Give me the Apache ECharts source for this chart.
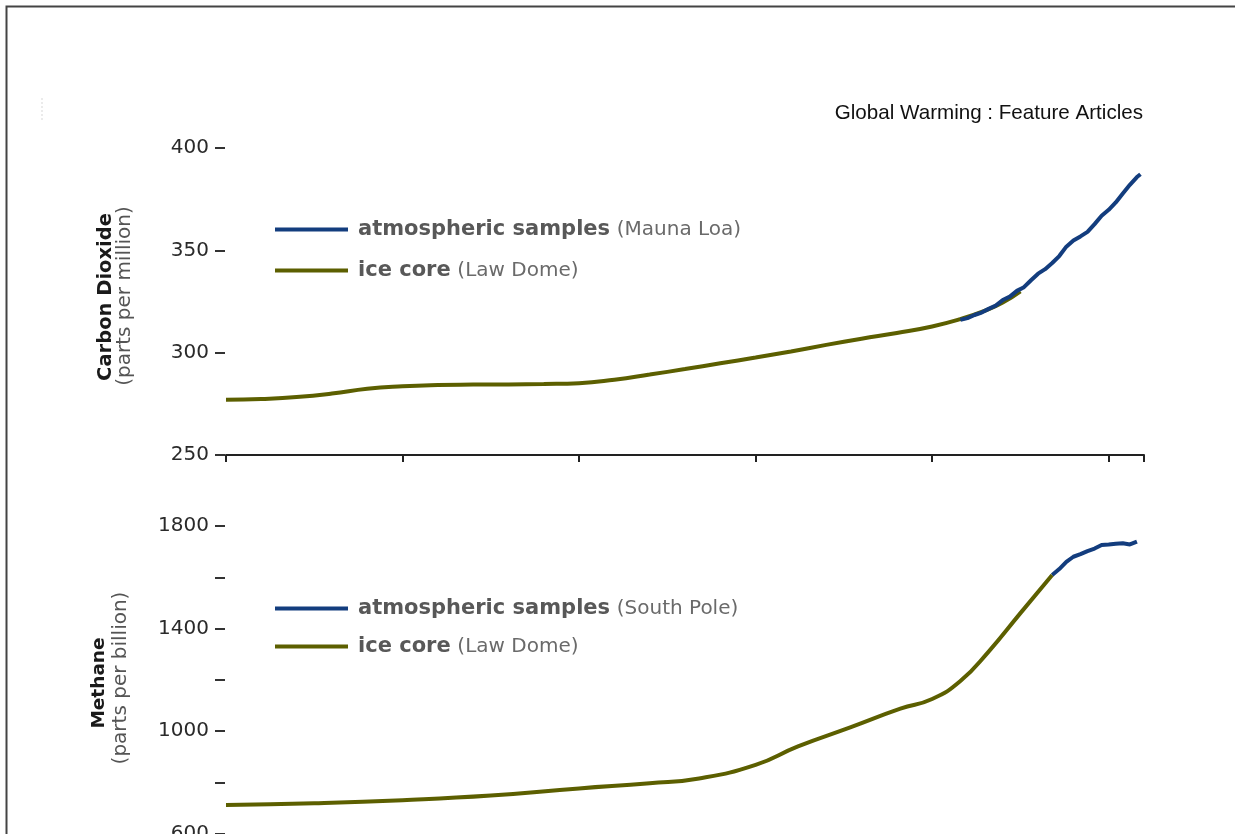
<!DOCTYPE html>
<html>
<head>
<meta charset="utf-8">
<script src="https://cdn.jsdelivr.net/npm/echarts@6/dist/echarts.min.js"></script>
<style>
html,body{margin:0;padding:0;background:#fff;overflow:hidden;}
#chart{width:1235px;height:834px;}
</style>
</head>
<body>
<div id="chart"></div>
<script>
// ---- Data ----
const co2IceYears = [1750,1760,1770,1780,1790,1800,1810,1820,1830,1840,1850,1860,1870,1880,1890,1900,1910,1920,1930,1940,1950,1958,1965,1970,1975];
const co2IceValues = [277,277.4,278.3,280.0,282.4,283.6,284.2,284.4,284.5,284.7,285.1,286.8,289.3,292.0,294.8,297.6,300.6,303.8,306.8,309.6,312.8,316.4,320.5,324.5,330.0];

const co2AtmYears = [1958,1960,1962,1964,1966,1968,1970,1972,1974,1976,1978,1980,1982,1984,1986,1988,1990,1992,1994,1996,1998,2000,2002,2004,2006,2008,2009];
const co2AtmValues = [316.0,316.9,318.4,319.6,321.4,323.0,325.7,327.4,330.2,332.0,335.4,338.6,340.8,343.8,347.2,351.8,354.8,356.8,359.0,362.8,366.9,369.8,373.4,377.8,382.0,385.8,387.2];

const ch4IceYears = [1750,1775,1800,1825,1850,1870,1884,1900,1912,1927,1941,1950,1958,1966,1975,1984];
const ch4IceValues = [711,718,730,748,776,796,815,868,940,1015,1087,1125,1195,1310,1460,1609];

const ch4AtmYears = [1984,1986,1988,1990,1992,1994,1996,1998,2000,2002,2004,2006,2008];
const ch4AtmValues = [1609,1632,1660,1680,1690,1702,1712,1726,1728,1731,1733,1728,1739];

const co2Ticks = [250,300,350,400];
const ch4LabelTicks = [600,1000,1400,1800];

const legendCO2 = {co2Atm:['atmospheric samples','(Mauna Loa)'], co2Ice:['ice core','(Law Dome)']};
const legendCH4 = {ch4Atm:['atmospheric samples','(South Pole)'], ch4Ice:['ice core','(Law Dome)']};

const pairs = (xs, ys) => xs.map((x, i) => [x, ys[i]]);

const BLUE = '#133d7e';
const OLIVE = '#5c5f00';
const FONT = '"DejaVu Sans", sans-serif';

const chart = echarts.init(document.getElementById('chart'), null, {renderer:'canvas'});

const yAxisCommon = {
  type:'value',
  offset:1,
  axisLine:{show:false},
  axisTick:{show:true, length:10, lineStyle:{color:'#333', width:2}},
  splitLine:{show:false},
  axisLabel:{fontFamily:FONT, fontSize:20, color:'#2a2a2a', margin:16}
};

const legendRich = {
  sp:{width:5},
  b:{fontFamily:FONT, fontWeight:'bold', fontSize:21, color:'#585858'},
  r:{fontFamily:FONT, fontSize:20, color:'#6a6a6a'}
};

function mkLegend(map, top, gap){
  return {
    orient:'vertical', left:275, top:top, itemGap:gap, padding:0,
    icon:'rect', itemWidth:73, itemHeight:4,
    data:Object.keys(map),
    formatter:(n)=>'{sp|}{b|' + map[n][0] + '}  {r|' + map[n][1] + '}',
    textStyle:{rich:legendRich},
    selectedMode:false
  };
}

const option = {
  animation:false,
  backgroundColor:'#fff',
  grid:[
    {left:226, right:91, top:148, height:307, outerBoundsMode:'none', containLabel:false},
    {left:226, right:91, top:526, height:307.5, outerBoundsMode:'none', containLabel:false}
  ],
  xAxis:[
    {type:'value', gridIndex:0, min:1750, max:2010, interval:50,
     axisLine:{show:true, lineStyle:{color:'#222', width:2}},
     axisTick:{show:true, length:7, lineStyle:{color:'#222', width:2}},
     axisLabel:{show:false}, splitLine:{show:false}},
    {type:'value', gridIndex:1, min:1750, max:2010, interval:50,
     axisLine:{show:false}, axisTick:{show:false},
     axisLabel:{show:false}, splitLine:{show:false}}
  ],
  yAxis:[
    Object.assign({}, yAxisCommon, {gridIndex:0, min:co2Ticks[0], max:co2Ticks[co2Ticks.length-1], interval:50}),
    Object.assign({}, yAxisCommon, {gridIndex:1, min:600, max:1800, interval:200,
      axisLabel:Object.assign({}, yAxisCommon.axisLabel, {
        formatter:(v)=> ch4LabelTicks.indexOf(v) >= 0 ? String(v) : ''
      })})
  ],
  legend:[ mkLegend(legendCO2, 219, 20), mkLegend(legendCH4, 598, 17) ],
  series:[
    {name:'co2Ice', type:'line', xAxisIndex:0, yAxisIndex:0, data:pairs(co2IceYears, co2IceValues),
     smooth:true, showSymbol:false, lineStyle:{color:OLIVE, width:4}, itemStyle:{color:OLIVE}, z:2},
    {name:'co2Atm', type:'line', xAxisIndex:0, yAxisIndex:0, data:pairs(co2AtmYears, co2AtmValues),
     smooth:false, showSymbol:false, lineStyle:{color:BLUE, width:4}, itemStyle:{color:BLUE}, z:3},
    {name:'ch4Ice', type:'line', xAxisIndex:1, yAxisIndex:1, data:pairs(ch4IceYears, ch4IceValues),
     smooth:true, showSymbol:false, lineStyle:{color:OLIVE, width:4}, itemStyle:{color:OLIVE}, z:2},
    {name:'ch4Atm', type:'line', xAxisIndex:1, yAxisIndex:1, data:pairs(ch4AtmYears, ch4AtmValues),
     smooth:false, showSymbol:false, lineStyle:{color:BLUE, width:4}, itemStyle:{color:BLUE}, z:3}
  ],
  graphic:[
    {type:'polyline', shape:{points:[[6.5,834],[6.5,6.5],[1235,6.5]]}, style:{stroke:'#444', lineWidth:2, fill:null}, silent:true},
    {type:'line', shape:{x1:42, y1:98, x2:42, y2:121}, style:{stroke:'#d8d8d8', lineWidth:1, lineDash:[2,2]}, silent:true},
    {type:'text', x:1143, y:113, style:{text:'Global Warming : Feature Articles', font:'20.6px "Liberation Sans", Arial, sans-serif', fill:'#111', textAlign:'right', textVerticalAlign:'middle'}},
    {type:'text', x:106, y:297, rotation:Math.PI/2, style:{text:'Carbon Dioxide', font:'bold 19.5px "DejaVu Sans", sans-serif', fill:'#1a1a1a', textAlign:'center', textVerticalAlign:'middle'}},
    {type:'text', x:125, y:296, rotation:Math.PI/2, style:{text:'(parts per million)', font:'20px "DejaVu Sans", sans-serif', fill:'#555', textAlign:'center', textVerticalAlign:'middle'}},
    {type:'text', x:99, y:683, rotation:Math.PI/2, style:{text:'Methane', font:'bold 18.5px "DejaVu Sans", sans-serif', fill:'#1a1a1a', textAlign:'center', textVerticalAlign:'middle'}},
    {type:'text', x:121, y:678, rotation:Math.PI/2, style:{text:'(parts per billion)', font:'20px "DejaVu Sans", sans-serif', fill:'#555', textAlign:'center', textVerticalAlign:'middle'}}
  ]
};
chart.setOption(option);
</script>
</body>
</html>
